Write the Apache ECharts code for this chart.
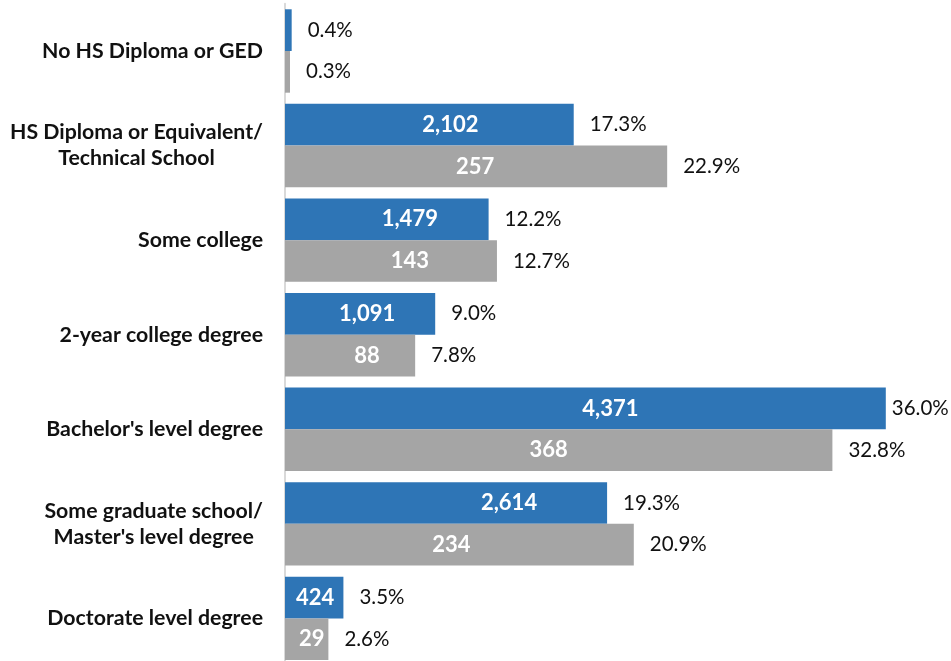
<!DOCTYPE html>
<html>
<head>
<meta charset="utf-8">
<title>Education level</title>
<script src="https://cdn.jsdelivr.net/npm/echarts@6/dist/echarts.min.js"></script>
<style>
  html, body { margin: 0; padding: 0; background: #ffffff; }
  #chart { width: 951px; height: 661px; }
</style>
</head>
<body>
<div id="chart"></div>
<script>
// Education levels, top to bottom
const categories = [
  'No HS Diploma or GED',
  'HS Diploma or Equivalent/\nTechnical School',
  'Some college',
  '2-year college degree',
  "Bachelor's level degree",
  "Some graduate school/\nMaster's level degree",
  'Doctorate level degree'
];

// Share of each group (percent) – these set the bar lengths
const bluePercent = [0.4, 17.3, 12.2, 9.0, 36.0, 19.3, 3.5];
const grayPercent = [0.3, 22.9, 12.7, 7.8, 32.8, 20.9, 2.6];

// Head counts printed inside the bars (none for the thinnest bars)
const blueCount = [null, 2102, 1479, 1091, 4371, 2614, 424];
const grayCount = [null, 257, 143, 88, 368, 234, 29];

// Horizontal nudges (px) for the in-bar count labels
const blueCountShift = [0, 21, 23, 7, 25, 63, 1];
const grayCountShift = [0, -1, 19, 17, -10, -8, 5];

const BLUE = '#2E75B6';
const GRAY = '#A5A5A5';
const FONT = 'Lato';
const X_MAX = 36;

const fmtCount = n => n.toLocaleString('en-US');

function percentData(values) {
  return values.map(v => ({
    value: v,
    label: { distance: v >= X_MAX ? 6 : 16 }
  }));
}

function countData(pcts, counts, shifts) {
  return pcts.map((v, i) => ({
    value: v,
    count: counts[i],
    label: { show: counts[i] != null, offset: [shifts[i], 0] }
  }));
}

const barCommon = {
  type: 'bar',
  barGap: '0%',
  barCategoryGap: '11.8%',
  animation: false
};

const percentLabel = {
  show: true,
  position: 'right',
  fontFamily: FONT,
  fontSize: 20.5,
  color: '#111111',
  formatter: p => p.value.toFixed(1) + '%'
};

const countLabel = {
  show: true,
  position: 'inside',
  fontFamily: FONT,
  fontSize: 22,
  fontWeight: 'bold',
  color: '#ffffff',
  formatter: p => (p.data.count == null ? '' : fmtCount(p.data.count))
};

const catStyle = {
  fontFamily: FONT,
  fontSize: 21.3,
  fontWeight: 'bold',
  color: '#111111',
  lineHeight: 26
};

const chart = echarts.init(document.getElementById('chart'), null, { renderer: 'canvas' });

chart.setOption({
  backgroundColor: '#ffffff',
  animation: false,
  grid: {
    left: 285, right: 65.2, top: 3.7, height: 662,
    containLabel: false,
    outerBoundsMode: 'none'
  },
  xAxis: [{
    type: 'value',
    min: 0,
    max: X_MAX,
    show: false
  }],
  yAxis: [
    {
      type: 'category',
      inverse: true,
      data: categories,
      axisLine: { show: true, lineStyle: { color: '#D9D9D9', width: 2 } },
      axisTick: { show: false },
      splitLine: { show: false },
      axisLabel: Object.assign({
        margin: 22,
        align: 'right',
        // block sits right of the axis gap; wrapped lines are centred within it
        formatter: v => '{c|' + v + '}',
        rich: { c: Object.assign({ align: 'center' }, catStyle) }
      }, catStyle)
    },
    {
      // twin axis carrying the label-only bars
      type: 'category',
      inverse: true,
      data: categories,
      show: false
    }
  ],
  series: [
    Object.assign({}, barCommon, {
      name: 'Blue group',
      yAxisIndex: 0,
      itemStyle: { color: BLUE },
      label: percentLabel,
      data: percentData(bluePercent)
    }),
    Object.assign({}, barCommon, {
      name: 'Gray group',
      yAxisIndex: 0,
      itemStyle: { color: GRAY },
      label: percentLabel,
      data: percentData(grayPercent)
    }),
    Object.assign({}, barCommon, {
      name: 'Blue counts',
      yAxisIndex: 1,
      silent: true,
      itemStyle: { color: 'rgba(0,0,0,0)' },
      label: countLabel,
      data: countData(bluePercent, blueCount, blueCountShift)
    }),
    Object.assign({}, barCommon, {
      name: 'Gray counts',
      yAxisIndex: 1,
      silent: true,
      itemStyle: { color: 'rgba(0,0,0,0)' },
      label: countLabel,
      data: countData(grayPercent, grayCount, grayCountShift)
    })
  ]
});
</script>
</body>
</html>
